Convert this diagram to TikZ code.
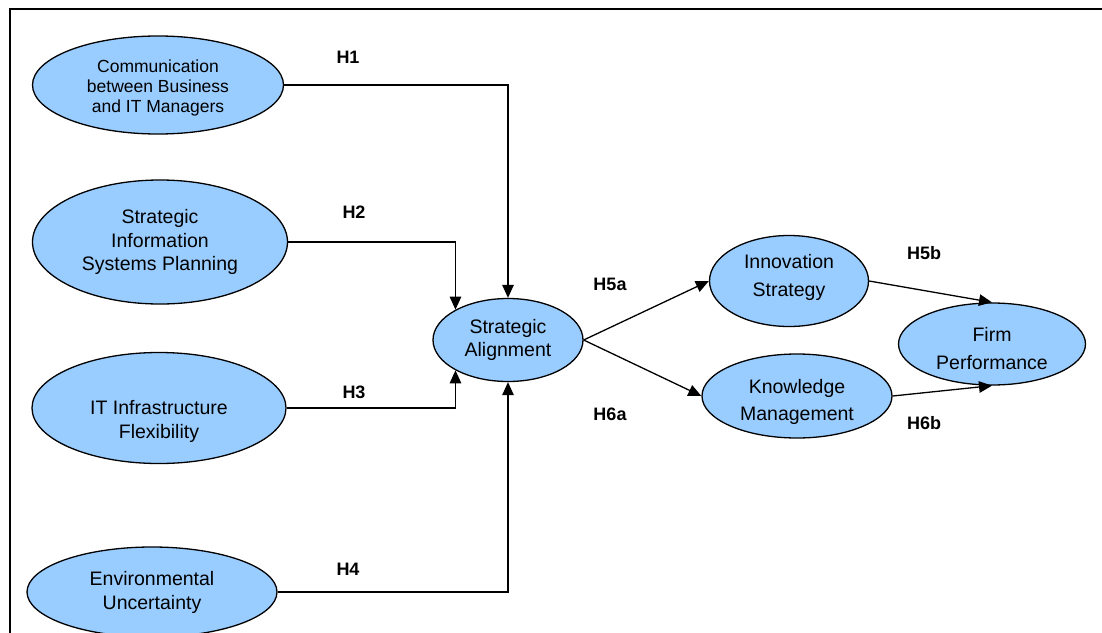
\documentclass[tikz,border=0pt]{standalone}
\usepackage{fontspec}
\setmainfont{Liberation Sans}
\usetikzlibrary{shapes.geometric,arrows.meta}

\definecolor{construct}{HTML}{99CCFF}

% text block moved down inside its ellipse
\newcommand{\lowered}[2]{\raisebox{-#1}[\height][\depth]{\begin{tabular}{@{}c@{}}#2\end{tabular}}}

\tikzset{
  latent/.style = {ellipse, draw = black, line width = 1.3pt, fill = construct,
                   inner sep = 0pt, align = center, font = \fontsize{19.5}{23.5}\selectfont},
  path/.style = {line width = 1.3pt, -{Triangle[length = 13pt, width = 11.5pt]}},
  hyp/.style = {font = \fontsize{18}{20}\selectfont\bfseries}
}

\begin{document}
\begin{tikzpicture}[x = 1pt, y = -1pt]
    \useasboundingbox (0,0) rectangle (1102,632);
    \draw[line width = 2pt] (9.5,640) -- (9.5,8.5) -- (1110,8.5);

    % antecedents
    \node[latent, minimum width = 251pt, minimum height = 98pt,
          font = \fontsize{17.5}{20}\selectfont](comm) at (158,85) {\lowered{3pt}{Communication\\between Business\\and IT Managers}};
    \node[latent, minimum width = 255pt, minimum height = 124pt](sisp) at (160,242) {Strategic\\Information\\Systems Planning};
    \node[latent, minimum width = 254pt, minimum height = 111pt,
          font = \fontsize{19.5}{24}\selectfont](itif) at (159,408) {\lowered{14pt}{IT Infrastructure\\Flexibility}};
    \node[latent, minimum width = 250pt, minimum height = 90pt,
          font = \fontsize{19.5}{24}\selectfont](envu) at (152,592) {Environmental\\Uncertainty};

    % mediator and outcomes
    \node[latent, minimum width = 150pt, minimum height = 83pt,
          font = \fontsize{19.5}{22.5}\selectfont](align) at (508,340) {Strategic\\Alignment};
    \node[latent, minimum width = 159pt, minimum height = 91pt,
          font = \fontsize{19.5}{28.5}\selectfont](innov) at (789,281) {\lowered{-4pt}{Innovation\\Strategy}};
    \node[latent, minimum width = 190pt, minimum height = 84pt,
          font = \fontsize{19.5}{27}\selectfont](know) at (797,396) {\lowered{6pt}{Knowledge\\Management}};
    \node[latent, minimum width = 187pt, minimum height = 82pt,
          font = \fontsize{19.5}{27.5}\selectfont](firm) at (992,344) {\lowered{6pt}{Firm\\Performance}};

    \draw[path] (comm.east) -| (align.north);
    \draw[path] (sisp.east) -| (align.150);
    \draw[path] (itif.east) -| (align.210);
    \draw[path] (envu.east) -| (align.south);

    \draw[path] (align.east) -- (innov.west);
    \draw[path] (align.east) -- (know.west);
    \draw[path] (innov.east) -- (firm.north);
    \draw[path] (know.east) -- (firm.south);

    % hypotheses
    \node[hyp](h1) at (348,57) {H1};
    \node[hyp](h2) at (354,212) {H2};
    \node[hyp](h3) at (354,392) {H3};
    \node[hyp](h4) at (348,569) {H4};
    \node[hyp](h5a) at (610,284) {H5a};
    \node[hyp](h6a) at (610,414) {H6a};
    \node[hyp](h5b) at (924,253) {H5b};
    \node[hyp](h6b) at (924,423) {H6b};
\end{tikzpicture}
\end{document}
